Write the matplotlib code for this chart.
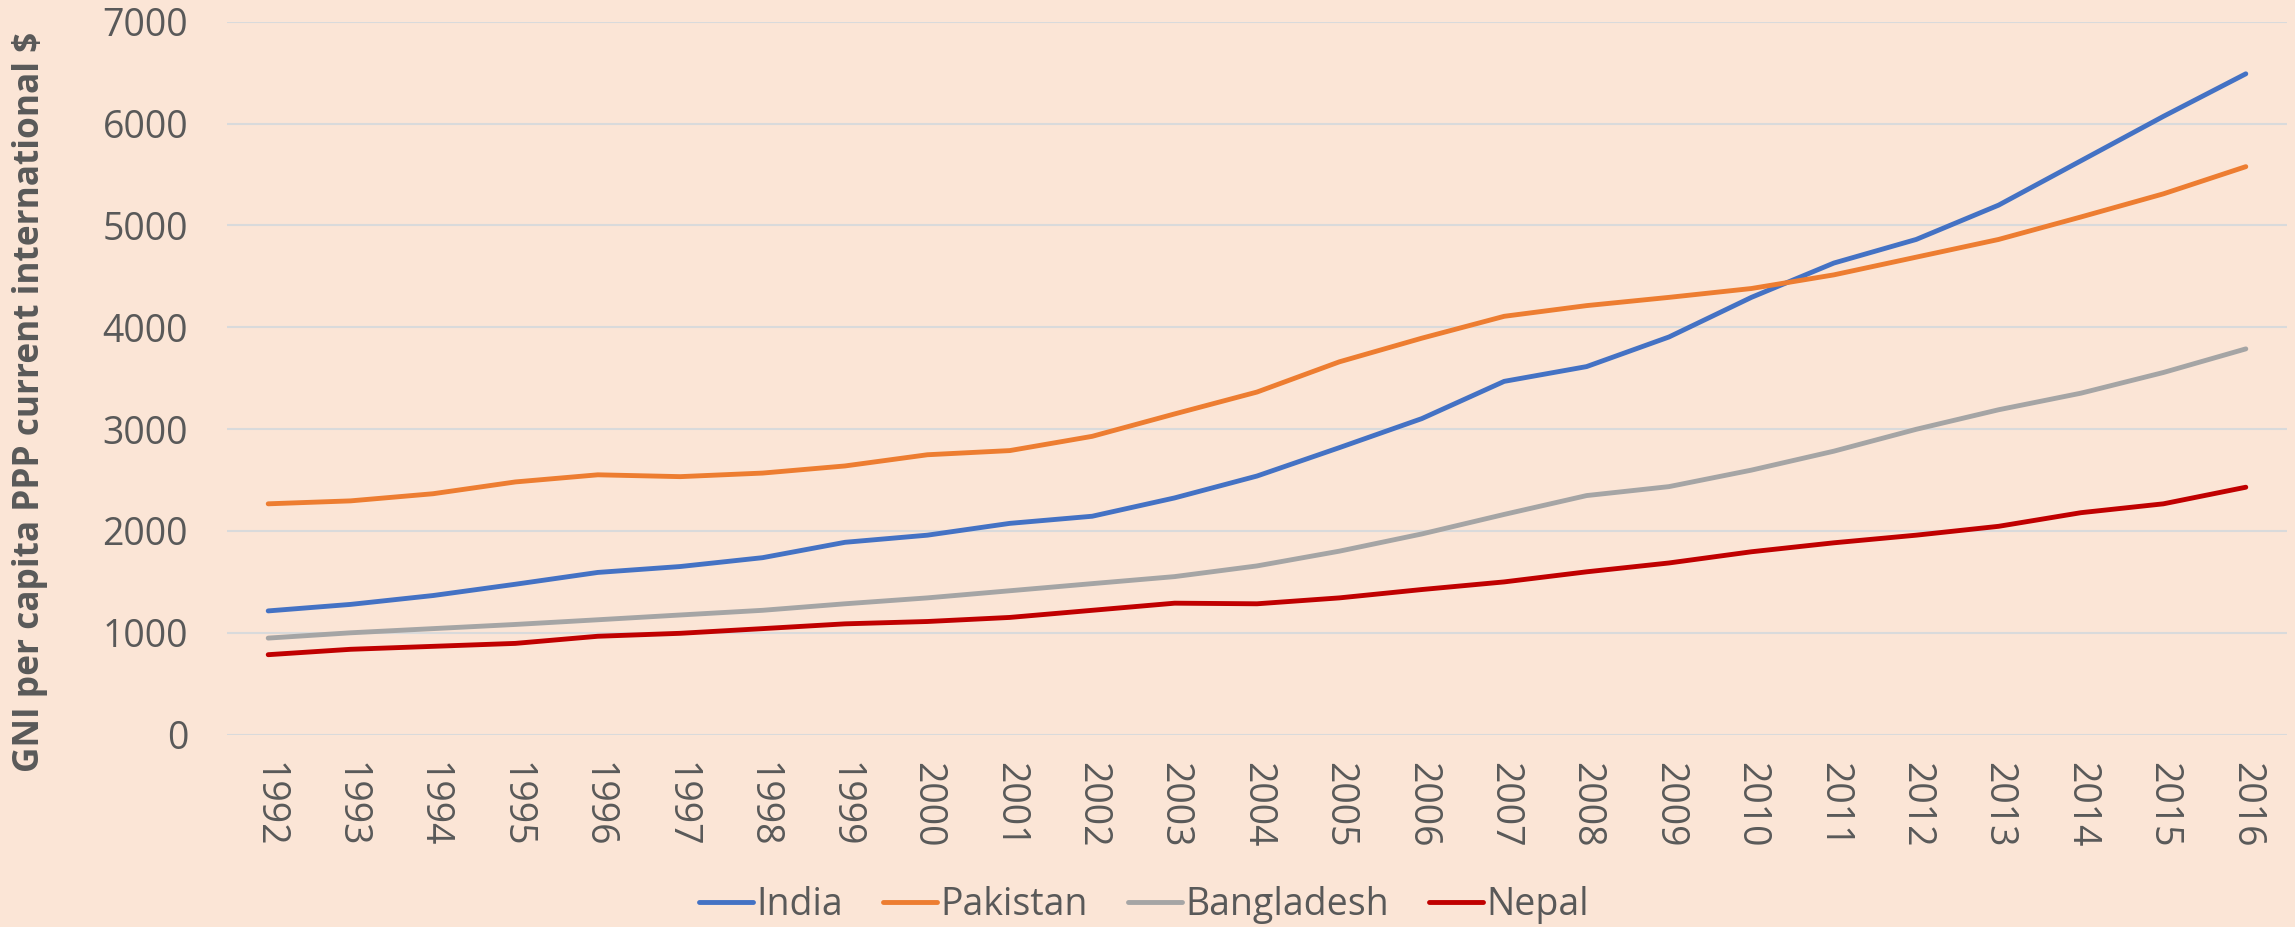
import matplotlib
matplotlib.use('Agg')
import matplotlib.pyplot as plt

years = [str(y) for y in range(1992, 2017)]
india = [1214, 1278, 1365, 1476, 1592, 1650, 1737, 1888, 1958, 2074, 2144, 2324, 2539,
         2818, 3103, 3469, 3614, 3905, 4294, 4631, 4863, 5200, 5636, 6072, 6490]
pakistan = [2266, 2295, 2365, 2481, 2551, 2533, 2568, 2638, 2748, 2789, 2929, 3149, 3364,
            3661, 3893, 4108, 4213, 4294, 4381, 4515, 4689, 4863, 5084, 5311, 5578]
bangladesh = [947, 999, 1040, 1081, 1127, 1174, 1220, 1284, 1342, 1412, 1482, 1551, 1656,
              1801, 1970, 2162, 2347, 2435, 2597, 2783, 2998, 3190, 3353, 3556, 3788]
nepal = [784, 837, 866, 895, 965, 994, 1040, 1087, 1110, 1150, 1220, 1290, 1284,
         1342, 1424, 1499, 1598, 1685, 1795, 1883, 1958, 2045, 2179, 2266, 2429]

series = [('India', india, '#4472C4'),
          ('Pakistan', pakistan, '#ED7D31'),
          ('Bangladesh', bangladesh, '#A5A5A5'),
          ('Nepal', nepal, '#C00000')]

BG = '#FBE5D6'
TXT = '#595959'
plt.rcParams['font.family'] = ['Open Sans', 'DejaVu Sans']

fig = plt.figure(figsize=(22.95, 9.27), dpi=100, facecolor=BG)
ax = fig.add_axes([227 / 2295, 1 - 734.5 / 927, 2060 / 2295, (734.5 - 21.9) / 927])
ax.set_facecolor(BG)

x = list(range(len(years)))
for name, vals, col in series:
    ax.plot(x, vals, color=col, lw=3.5, label=name, solid_capstyle='round')

ax.set_xlim(-0.5, len(years) - 0.5)
ax.set_ylim(0, 7000)
ax.set_yticks(range(0, 7001, 1000))
ax.set_xticks(x)
ax.set_xticklabels(years, rotation=-90)
ax.tick_params(axis='both', length=0, labelsize=27, labelcolor=TXT)
ax.tick_params(axis='x', pad=20)
ax.tick_params(axis='y', pad=28)
ax.grid(axis='y', color='#D9DADB', lw=1.5)
ax.set_axisbelow(True)
for s in ax.spines.values():
    s.set_visible(False)

ax.set_ylabel('GNI per capita PPP current international $', fontsize=25.4,
              fontweight='bold', color=TXT)
ax.yaxis.set_label_coords(-0.087, 0.4666)

fig.legend(loc='center', bbox_to_anchor=(0.4985, 1 - 905 / 927), ncol=4, frameon=False,
           fontsize=27, handlelength=1.45, handletextpad=0.1, columnspacing=1.05,
           labelcolor=TXT)

fig.savefig('out.png', dpi=100, facecolor=BG)
